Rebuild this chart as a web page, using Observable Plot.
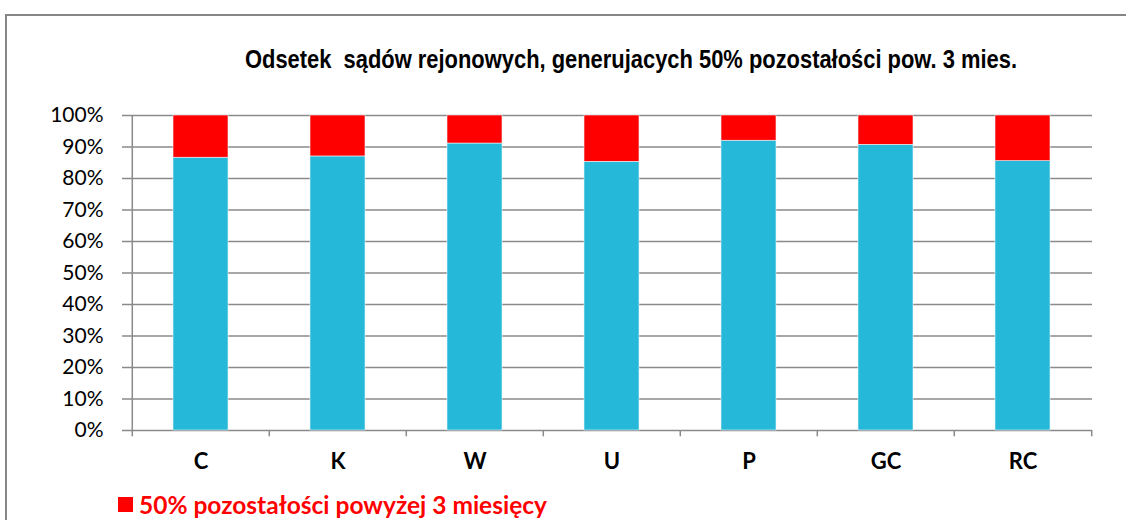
<!DOCTYPE html>
<html>
<head>
<meta charset="utf-8">
<script src="https://cdn.jsdelivr.net/npm/d3@7"></script>
<script src="https://cdn.jsdelivr.net/npm/@observablehq/plot@0.6"></script>
<style>
  html, body { margin: 0; padding: 0; background: #fff; }
  body { width: 1126px; height: 520px; position: relative; overflow: hidden; }
  #frame { position: absolute; left: 5px; top: 14px; width: 1140px; height: 540px; border: 2px solid #868686; box-sizing: border-box; }
  #title { position: absolute; left: 245px; top: 45px; white-space: nowrap; transform: scaleX(0.876); transform-origin: 0 0; font-family: "Liberation Sans", Arial, sans-serif; font-weight: bold; font-size: 25px; color: #000; }
  #chart { position: absolute; left: 0; top: 95px; }
  #legend { position: absolute; left: 118px; top: 490px; font-family: Lato, "Open Sans", sans-serif; font-weight: bold; font-size: 24.5px; color: #ff0000; display: flex; align-items: center; white-space: nowrap; }
  #legend .sw { width: 15px; height: 15px; background: #ff0000; margin-right: 6px; display: inline-block; }
</style>
</head>
<body>
<div id="frame"></div>
<div id="title">Odsetek&nbsp; sądów rejonowych, generujacych 50% pozostałości pow. 3 mies.</div>
<div id="chart"></div>
<div id="legend"><span class="sw"></span><span>50% pozostałości powyżej 3 miesięcy</span></div>
<script>
const categories = ["C", "K", "W", "U", "P", "GC", "RC"];
const below = [86.6, 87.0, 91.1, 85.3, 92.0, 90.7, 85.5];
const above = [13.4, 13.0, 8.9, 14.7, 8.0, 9.3, 14.5];
const seriesNames = ["pozostałe", "50% pozostałości powyżej 3 miesięcy"];
const seriesColors = ["#26B8D9", "#FF0000"];
const yTicks = [0, 10, 20, 30, 40, 50, 60, 70, 80, 90, 100];

const data = [];
categories.forEach((c, i) => {
  data.push({cat: c, series: seriesNames[0], value: below[i]});
  data.push({cat: c, series: seriesNames[1], value: above[i]});
});

const W = 1126, ml = 130, mr = 34;
const step = (W - ml - mr) / categories.length;
const grid = "#8a8a8a";

const chart = Plot.plot({
  width: W,
  height: 380,
  marginLeft: ml,
  marginRight: mr,
  marginTop: 20,
  marginBottom: 45,
  style: {fontFamily: "Lato, 'Open Sans', sans-serif", background: "transparent"},
  x: {domain: categories, paddingInner: 0.6, paddingOuter: 0.3, label: null},
  y: {domain: [0, 100], ticks: yTicks, label: null},
  color: {domain: seriesNames, range: seriesColors},
  marks: [
    Plot.ruleY(yTicks, {y: d => d, stroke: grid, strokeWidth: 1.5}),
    Plot.barY(data, {x: "cat", y: "value", fill: "series", order: seriesNames, stroke: "#e8f6fb", strokeWidth: 0.6}),
    Plot.ruleX([categories[0]], {x: d => d, dx: -step / 2, y1: 0, y2: 100, stroke: grid, strokeWidth: 1.5}),
    Plot.ruleX(categories, {x: d => d, dx: -step / 2, y1: 0, y2: -2, stroke: grid, strokeWidth: 1.5}),
    Plot.ruleX([categories[categories.length - 1]], {x: d => d, dx: step / 2, y1: 0, y2: -2, stroke: grid, strokeWidth: 1.5}),
    Plot.axisY({ticks: yTicks, tickFormat: d => d + "%", tickSize: 8, tickPadding: 19, fontSize: 21, stroke: grid, strokeWidth: 1.5, color: "#000"}),
    Plot.axisX({tickSize: 0, tickPadding: 23, fontSize: 22, fontWeight: "bold", color: "#000"})
  ]
});
document.getElementById("chart").appendChild(chart);
</script>
</body>
</html>
